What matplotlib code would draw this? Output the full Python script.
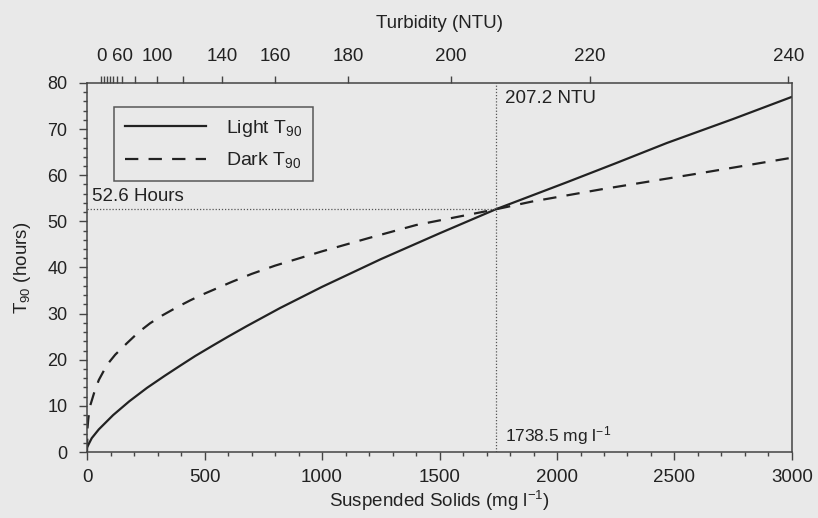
import matplotlib
matplotlib.use("Agg")
import matplotlib.pyplot as plt
from matplotlib.ticker import MultipleLocator

plt.rcParams['font.family'] = ['Liberation Sans', 'DejaVu Sans']
plt.rcParams['mathtext.fontset'] = 'custom'
plt.rcParams['mathtext.rm'] = 'Liberation Sans'
plt.rcParams['mathtext.it'] = 'Liberation Sans:italic'

# ---- data ----
light_ss = [0, 20, 50, 111, 180, 255, 330, 396, 460, 536, 600, 680, 821, 1000, 1250, 1500,
            1738.5, 2043, 2250, 2468, 2750, 3000]
light_t90 = [1.0, 3.0, 4.9, 8.0, 11.0, 13.9, 16.5, 18.7, 20.8, 23.1, 25.0, 27.3, 31.2, 35.8,
             41.8, 47.4, 52.6, 58.5, 62.6, 67.0, 72.2, 77.0]

dark_ss = [0, 2, 5, 10, 15, 30, 50, 85, 120, 170, 220, 268, 320, 383, 440, 494, 617, 700,
           800, 1000, 1200, 1400, 1738.5, 1894, 2183, 2604, 3000]
dark_t90 = [0.0, 5.2, 7.0, 9.1, 10.3, 12.8, 15.6, 18.9, 21.1, 23.6, 26.0, 27.9, 29.6, 31.4,
            32.9, 34.2, 36.9, 38.6, 40.4, 43.5, 46.4, 49.2, 52.6, 54.3, 56.9, 60.4, 63.8]

turb_ticks = [0, 10, 20, 30, 40, 50, 60, 80, 100, 120, 140, 160, 180, 200, 220, 240]
turb_pos_mg = [60, 72, 85, 98, 109, 128, 149, 204, 298, 409, 574, 800, 1111, 1549, 2140, 2985]
turb_labelled = [0, 60, 100, 140, 160, 180, 200, 220, 240]

cross_ss = 1738.5
cross_t90 = 52.6
cross_ntu = 207.2

bg = '#e9e9e9'
ink = '#222222'
fs = 13.5

fig = plt.figure(figsize=(8.18, 5.18), dpi=100, facecolor=bg)
ax = fig.add_axes([0.1064, 0.1274, 0.8618, 0.7124])
ax.set_facecolor(bg)

ax.plot(light_ss, light_t90, color=ink, lw=1.6, label='Light T$_{\\mathregular{90}}$')
ax.plot(dark_ss, dark_t90, color=ink, lw=1.6, linestyle=(0, (6.0, 4.6)),
        label='Dark T$_{\\mathregular{90}}$')

ax.axvline(cross_ss, color='#555555', lw=0.9, linestyle=(0, (1, 1.5)))
ax.plot([0, cross_ss], [cross_t90, cross_t90], color='#555555', lw=0.9, linestyle=(0, (1, 1.5)))

ax.text(20, 53.6, '%.1f Hours' % cross_t90, fontsize=fs, color=ink, va='bottom', ha='left')
ax.text(1779, 76.6, '%.1f NTU' % cross_ntu, fontsize=fs, color=ink, va='center', ha='left')
ax.text(1779, 3.6, '%.1f mg l$^{\\mathregular{-1}}$' % cross_ss, fontsize=fs - 1, color=ink,
        va='center', ha='left')

ax.set_xlim(0, 3000)
ax.set_ylim(0, 80)
ax.xaxis.set_major_locator(MultipleLocator(500))
ax.xaxis.set_minor_locator(MultipleLocator(100))
ax.yaxis.set_major_locator(MultipleLocator(10))
ax.yaxis.set_minor_locator(MultipleLocator(2))
ax.tick_params(which='both', direction='out', colors='#444444', labelcolor=ink, labelsize=fs)
ax.tick_params(which='major', length=6, width=1)
ax.tick_params(which='minor', length=3, width=1)
ax.tick_params(axis='x', which='major', pad=6)
ax.tick_params(axis='y', which='major', labelsize=fs - 0.5, pad=8)
for s in ax.spines.values():
    s.set_color('#444444')
    s.set_linewidth(1.1)

ax.set_xlabel('Suspended Solids (mg l$^{\\mathregular{-1}}$)', fontsize=fs, color=ink, labelpad=2)
ax.set_ylabel('T$_{\\mathregular{90}}$ (hours)', fontsize=fs, color=ink, labelpad=10)

top = ax.twiny()
top.set_xlim(ax.get_xlim())
top.set_xticks(turb_pos_mg)
top.set_xticklabels([str(t) if t in turb_labelled else '' for t in turb_ticks])
top.tick_params(direction='out', length=5, width=1, colors='#444444', labelcolor=ink,
                labelsize=fs, pad=8)
top.set_xlabel('Turbidity (NTU)', fontsize=fs, color=ink, labelpad=14)
for s in top.spines.values():
    s.set_visible(False)

leg = ax.legend(loc='upper left', bbox_to_anchor=(0.038, 0.935), borderaxespad=0,
                fontsize=fs + 0.5, frameon=True, fancybox=False, handlelength=4.2,
                handletextpad=1.0, borderpad=0.55, labelspacing=0.6)
leg.get_frame().set_edgecolor('#333333')
leg.get_frame().set_facecolor(bg)
leg.get_frame().set_linewidth(1.1)
for t in leg.get_texts():
    t.set_color(ink)

fig.savefig('out.png', dpi=100, facecolor=bg)
